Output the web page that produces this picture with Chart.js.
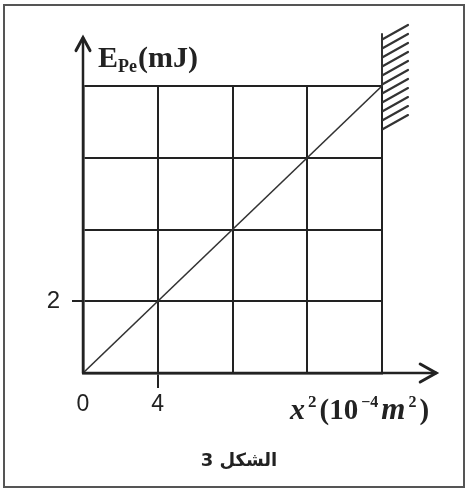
<!DOCTYPE html>
<html>
<head>
<meta charset="utf-8">
<script src="https://cdn.jsdelivr.net/npm/chart.js@4"></script>
<style>
  body { margin: 0; background: #fff; }
  #wrap { width: 469px; height: 489px; position: relative; }
</style>
</head>
<body>
<div id="wrap"><canvas id="energyChart"></canvas></div>
<script>
// data
const xSquared = [0, 4, 8, 12, 16];
const epeValues = [0, 2, 4, 6, 8];
const xTickLabels = [0, 4];
const yTickLabels = [2];

// axis arrows and wall, in data units
const xArrowEnd = 18.9;
const yArrowEnd = 9.35;
const wallTop = 9.45;
const wallBottom = 6.8;

const ink = '#222';

const decorations = {
  id: 'decorations',
  beforeDraw(chart) {
    const c = chart.ctx;
    c.save();
    c.fillStyle = '#fff';
    c.fillRect(0, 0, chart.width, chart.height);
    c.strokeStyle = '#555';
    c.lineWidth = 2;
    c.strokeRect(4, 5, 460, 482);
    c.restore();
  },
  afterDraw(chart) {
    const c = chart.ctx;
    const xs = chart.scales.x, ys = chart.scales.y;
    const x0 = xs.getPixelForValue(0), y0 = ys.getPixelForValue(0);
    const xEnd = xs.getPixelForValue(xArrowEnd);
    const yEnd = ys.getPixelForValue(yArrowEnd);
    c.save();
    c.strokeStyle = ink;
    c.lineWidth = 2.5;
    c.lineCap = 'round';
    // axis extensions
    c.beginPath();
    c.moveTo(x0, y0); c.lineTo(x0, yEnd);
    c.moveTo(x0, y0); c.lineTo(xEnd, y0);
    c.stroke();
    // arrow heads
    c.lineWidth = 3;
    c.beginPath();
    c.moveTo(x0 - 7, yEnd + 13); c.lineTo(x0, yEnd); c.lineTo(x0 + 7, yEnd + 13);
    c.moveTo(xEnd - 16, y0 - 9); c.lineTo(xEnd, y0); c.lineTo(xEnd - 16, y0 + 9);
    c.stroke();

    // wall with hatching
    const wx = xs.getPixelForValue(xSquared[xSquared.length - 1]);
    const wt = ys.getPixelForValue(wallTop);
    const wb = ys.getPixelForValue(wallBottom);
    c.lineWidth = 2;
    c.strokeStyle = '#333';
    c.beginPath();
    c.moveTo(wx, chart.chartArea.top); c.lineTo(wx, wt);
    c.stroke();
    c.lineWidth = 2.2;
    const n = 11;
    for (let i = 0; i < n; i++) {
      const yy = wt + 5 + i * (wb - wt - 5) / (n - 1);
      c.beginPath();
      c.moveTo(wx + 1, yy);
      c.lineTo(wx + 26, yy - 14);
      c.stroke();
    }

    // y axis title E_Pe(mJ)
    c.fillStyle = ink;
    c.textBaseline = 'alphabetic';
    c.textAlign = 'left';
    let tx = 98;
    c.font = 'bold 30px "Liberation Serif"';
    c.fillText('E', tx, 67);
    tx += c.measureText('E').width;
    c.font = 'bold 18px "Liberation Serif"';
    c.fillText('Pe', tx, 72);
    tx += c.measureText('Pe').width + 1;
    c.font = 'bold 30px "Liberation Serif"';
    c.fillText('(mJ)', tx, 67);

    // x axis title x²(10⁻⁴m²)
    const parts = [
      ['x', 'italic bold 30px "Liberation Serif"', 0],
      ['2', 'bold 17px "Liberation Serif"', -12],
      ['(10', 'bold 29px "Liberation Serif"', 0],
      ['\u22124', 'bold 16px "Liberation Serif"', -12],
      ['m', 'italic bold 31px "Liberation Serif"', 0],
      ['2', 'bold 16px "Liberation Serif"', -12],
      [')', 'bold 29px "Liberation Serif"', 0]
    ];
    tx = 290;
    for (const [s, f, dy] of parts) {
      c.font = f;
      c.fillText(s, tx, 419 + dy);
      tx += c.measureText(s).width + 3;
    }

    // caption
    c.font = 'bold 18px "DejaVu Sans"';
    c.textAlign = 'center';
    c.direction = 'rtl';
    c.fillText('الشكل 3', 239, 466);
    c.restore();
  }
};

const ctx = document.getElementById('energyChart').getContext('2d');
const energyChart = new Chart(ctx, {
  type: 'scatter',
  data: {
    datasets: [{
      label: 'Epe',
      data: xSquared.map((x, i) => ({ x: x, y: epeValues[i] })),
      showLine: true,
      borderColor: '#333',
      borderWidth: 1.6,
      pointRadius: 0
    }]
  },
  options: {
    responsive: true,
    maintainAspectRatio: false,
    animation: false,
    layout: { padding: { top: 86, right: 87, left: 0, bottom: 0 } },
    plugins: {
      legend: { display: false },
      tooltip: { enabled: false }
    },
    scales: {
      x: {
        type: 'linear',
        min: 0,
        max: 16,
        afterFit(scale) { scale.height = 116; },
        border: { display: true, color: ink, width: 2.5 },
        grid: {
          color: ink,
          lineWidth: 2,
          tickLength: 15,
          tickColor: (c) => (c.tick && c.tick.value === 4 ? ink : 'rgba(0,0,0,0)')
        },
        ticks: {
          stepSize: 4,
          padding: 3,
          maxRotation: 0,
          color: ink,
          font: { family: 'Liberation Sans', size: 23 },
          callback: (v) => (xTickLabels.includes(v) ? String(v) : '')
        }
      },
      y: {
        type: 'linear',
        min: 0,
        max: 8,
        afterFit(scale) { scale.width = 83; },
        border: { display: true, color: ink, width: 2.5 },
        grid: {
          color: ink,
          lineWidth: 2,
          tickLength: 11,
          tickColor: (c) => (c.tick && c.tick.value === 2 ? ink : 'rgba(0,0,0,0)')
        },
        ticks: {
          stepSize: 2,
          padding: 12,
          color: ink,
          font: { family: 'Liberation Sans', size: 24 },
          callback: (v) => (yTickLabels.includes(v) ? String(v) : '')
        }
      }
    }
  },
  plugins: [decorations]
});
</script>
</body>
</html>
